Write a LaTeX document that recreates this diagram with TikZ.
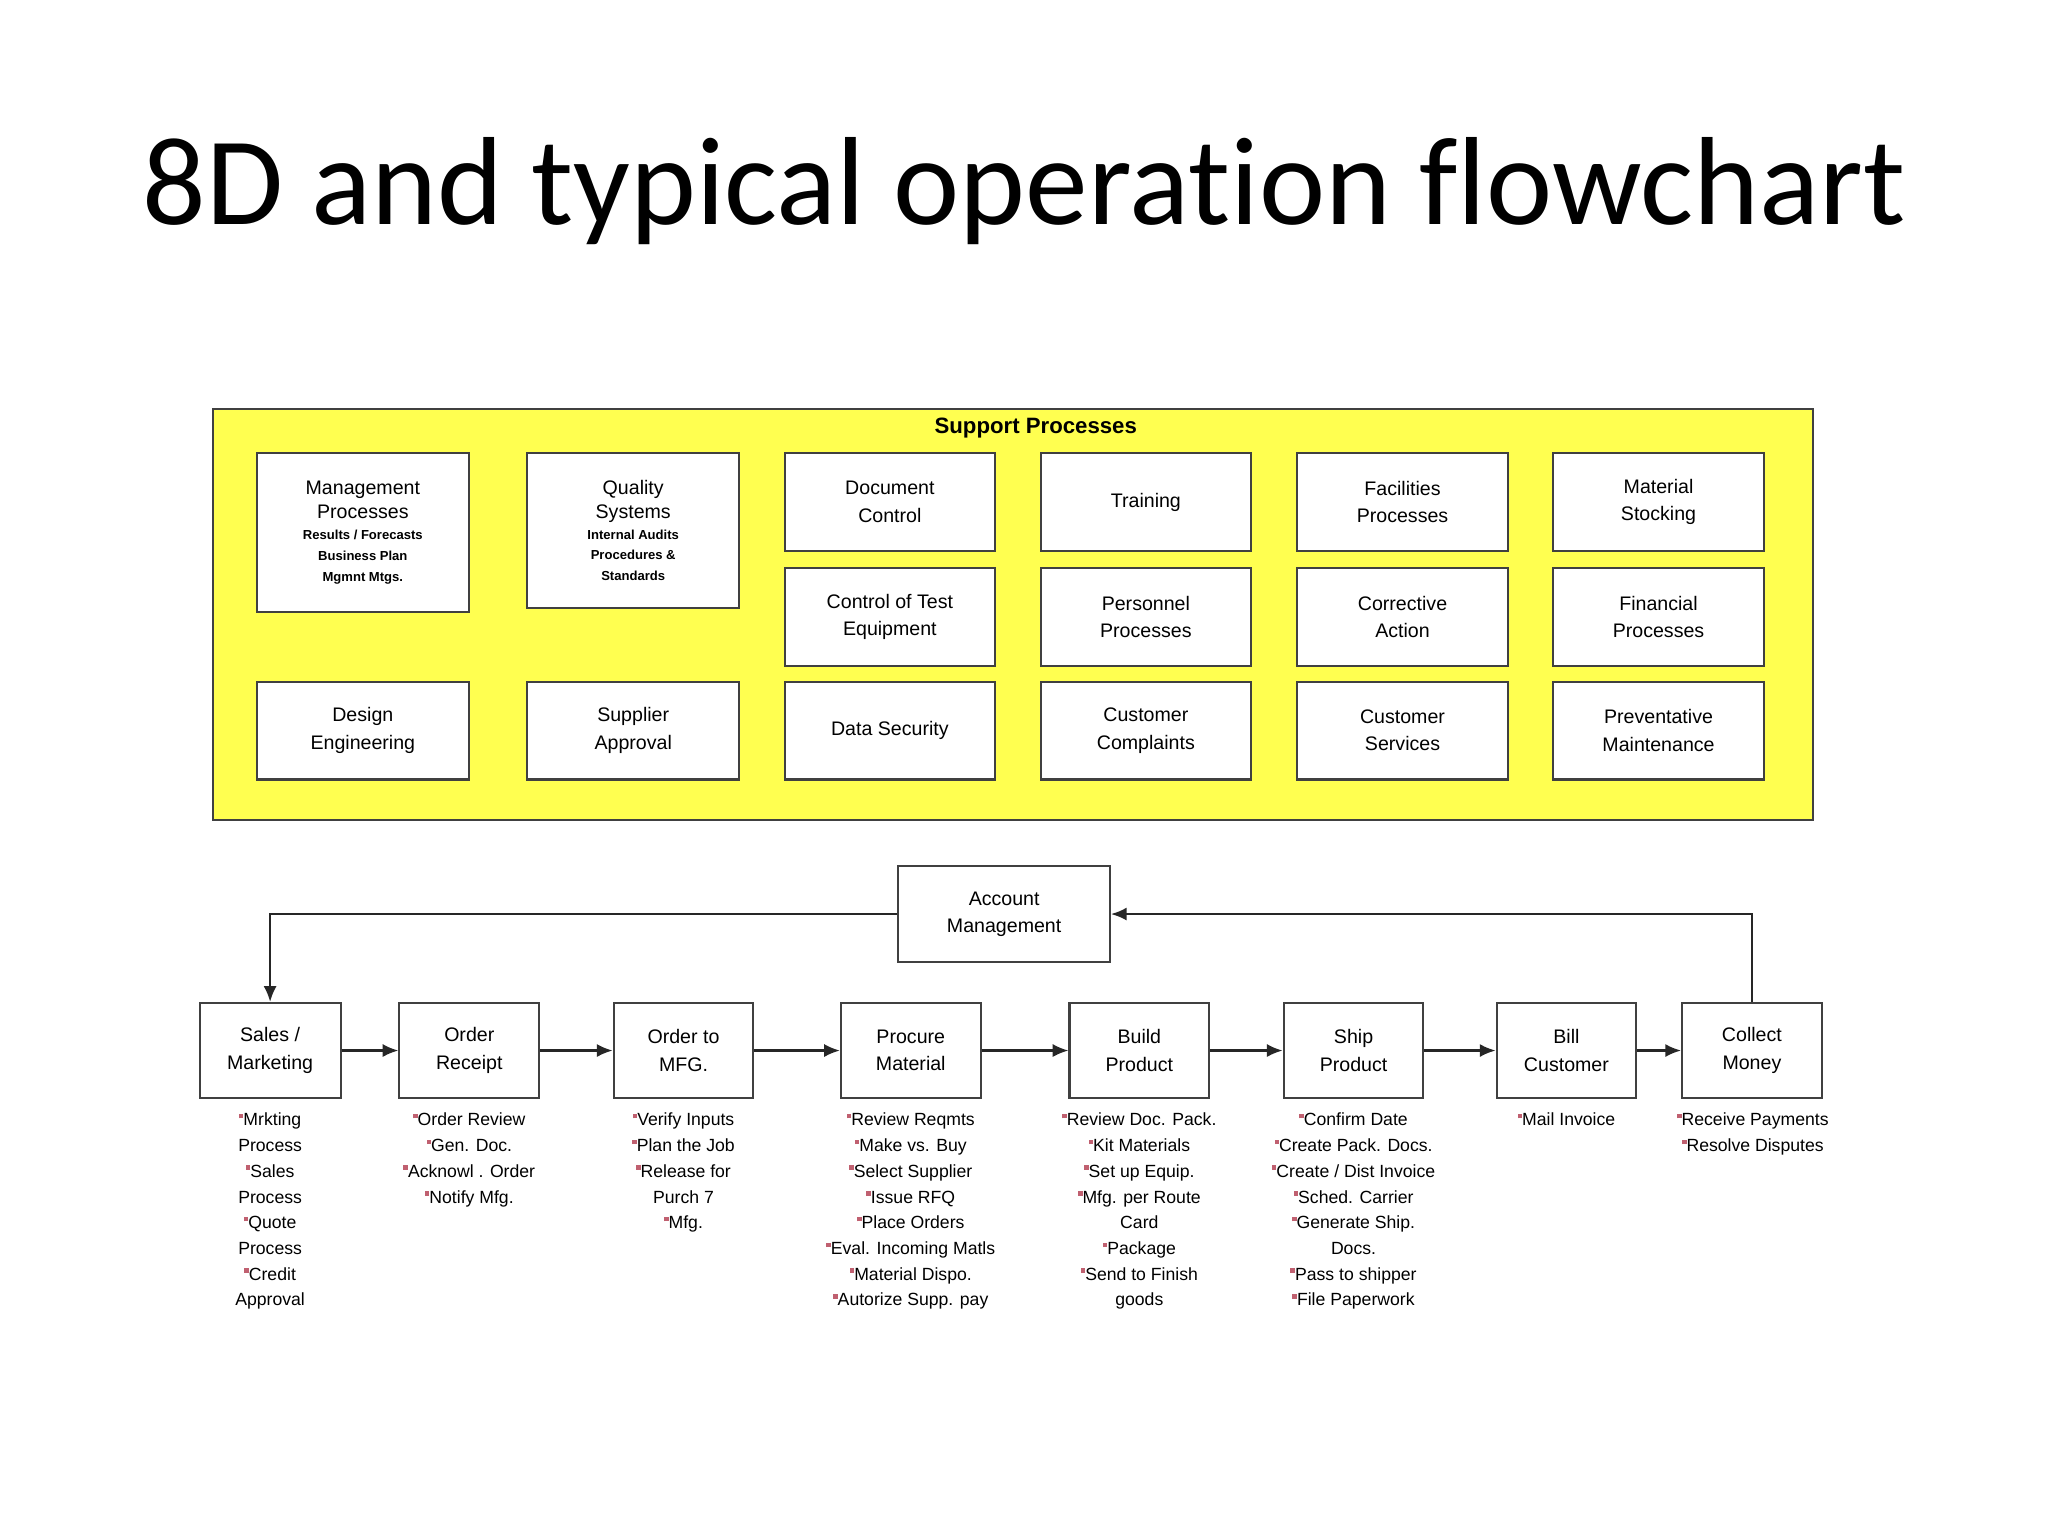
\documentclass[tikz,border=0pt]{standalone}
\usepackage{fontspec}
\setmainfont{Liberation Sans}
\newfontfamily\titlefont[Ligatures=NoCommon]{Carlito}
\usetikzlibrary{arrows.meta}
\definecolor{ylw}{HTML}{FFFF50}
\definecolor{bul}{HTML}{C06070}
\newcommand{\bu}{\raisebox{0.8ex}{\textcolor{bul}{\rule{3.5pt}{3.5pt}}}}
\begin{document}
\begin{tikzpicture}[x=1pt,y=-1pt,
  pbox/.style={draw=black!75,line width=1.6pt,fill=white,align=center,font=\fontsize{15}{21}\selectfont,inner sep=0pt,anchor=north west},
  fbox/.style={draw=black!75,line width=1.6pt,fill=white,align=center,font=\fontsize{15}{21}\selectfont,inner sep=0pt,minimum width=107pt,minimum height=73pt,anchor=north west},
  blist/.style={align=center,anchor=north,font=\fontsize{13.5}{19.7}\selectfont,inner sep=0pt},
  arr/.style={-{Latex[length=12pt,width=10pt]},line width=1.6pt,black!85}]
\useasboundingbox (0,0) rectangle (1568,1176);
\fill[white] (0,0) rectangle (1568,1176);
\node[font=\titlefont\fontsize{96}{100}\selectfont] (title) at (784,146) {8D and typical operation flowchart};
\draw[fill=ylw,line width=1.6pt,draw=black!75] (163,313) rectangle (1388,628);
\node[font=\bfseries\fontsize{17}{20}\selectfont] (sp) at (793,328) {Support Processes};
% column boxes
\node[pbox,minimum width=162pt,minimum height=122pt] (mp) at (196,346) {Management\\[-3pt]Processes\\[-5pt]{\bfseries\fontsize{10}{13}\selectfont Results / Forecasts}\\[-5pt]{\bfseries\fontsize{10}{13}\selectfont Business Plan}\\[-5pt]{\bfseries\fontsize{10}{13}\selectfont Mgmnt Mtgs.}};
\node[pbox,minimum width=162pt,minimum height=119pt] (qs) at (403,346) {Quality\\[-3pt]Systems\\[-5pt]{\bfseries\fontsize{10}{13}\selectfont Internal Audits}\\[-5pt]{\bfseries\fontsize{10}{13}\selectfont Procedures \&}\\[-5pt]{\bfseries\fontsize{10}{13}\selectfont Standards}};
\node[pbox,minimum width=162pt,minimum height=75pt] (de) at (196,521) {Design\\Engineering};
\node[pbox,minimum width=162pt,minimum height=75pt] (sa) at (403,521) {Supplier\\Approval};
\node[pbox,minimum width=161pt,minimum height=75pt] (dc) at (600,346) {Document\\Control};
\node[pbox,minimum width=161pt,minimum height=75pt] (ct) at (600,434) {Control of Test\\Equipment};
\node[pbox,minimum width=161pt,minimum height=75pt] (ds) at (600,521) {Data Security};
\node[pbox,minimum width=161pt,minimum height=75pt] (tr) at (796,346) {Training};
\node[pbox,minimum width=161pt,minimum height=75pt] (pp) at (796,434) {Personnel\\Processes};
\node[pbox,minimum width=161pt,minimum height=75pt] (cc) at (796,521) {Customer\\Complaints};
\node[pbox,minimum width=162pt,minimum height=75pt] (fp) at (992,346) {Facilities\\Processes};
\node[pbox,minimum width=162pt,minimum height=75pt] (ca) at (992,434) {Corrective\\Action};
\node[pbox,minimum width=162pt,minimum height=75pt] (cs) at (992,521) {Customer\\Services};
\node[pbox,minimum width=162pt,minimum height=75pt] (ms) at (1188,346) {Material\\Stocking};
\node[pbox,minimum width=162pt,minimum height=75pt] (fin) at (1188,434) {Financial\\Processes};
\node[pbox,minimum width=162pt,minimum height=75pt] (pm) at (1188,521) {Preventative\\Maintenance};
% account
\node[pbox,minimum width=162pt,minimum height=74pt] (am) at (687,662) {Account\\Management};
% flow
\node[fbox,minimum width=108pt] (s1) at (152,767) {Sales /\\Marketing};
\node[fbox] (s2) at (305,767) {Order\\Receipt};
\node[fbox] (s3) at (469,767) {Order to\\MFG.};
\node[fbox] (s4) at (643,767) {Procure\\Material};
\node[fbox] (s5) at (818,767) {Build\\Product};
\node[fbox] (s6) at (982,767) {Ship\\Product};
\node[fbox] (s7) at (1145,767) {Bill\\Customer};
\node[fbox] (s8) at (1287,767) {Collect\\Money};
\foreach \a/\b in {s1/s2,s2/s3,s3/s4,s4/s5,s5/s6,s6/s7,s7/s8}
  \draw[arr] (\a) -- (\b);
\draw[arr] (s8.north) |- (am.east);
\draw[arr] (am.west) -| (s1.north);
% bullet lists
\node[blist] (b1) at (s1.south |- 0,852) {\bu Mrkting\\Process\\\bu Sales\\Process\\\bu Quote\\Process\\\bu Credit\\Approval};
\node[blist] (b2) at (s2.south |- 0,852) {\bu Order Review\\\bu Gen. Doc.\\\bu Acknowl . Order\\\bu Notify Mfg.};
\node[blist] (b3) at (s3.south |- 0,852) {\bu Verify Inputs\\\bu Plan the Job\\\bu Release for\\Purch 7\\\bu Mfg.};
\node[blist] (b4) at (s4.south |- 0,852) {\bu Review Reqmts\\\bu Make vs. Buy\\\bu Select Supplier\\\bu Issue RFQ\\\bu Place Orders\\\bu Eval. Incoming Matls\\\bu Material Dispo.\\\bu Autorize Supp. pay};
\node[blist] (b5) at (s5.south |- 0,852) {\bu Review Doc. Pack.\\\bu Kit Materials\\\bu Set up Equip.\\\bu Mfg. per Route\\Card\\\bu Package\\\bu Send to Finish\\goods};
\node[blist] (b6) at (s6.south |- 0,852) {\bu Confirm Date\\\bu Create Pack. Docs.\\\bu Create / Dist Invoice\\\bu Sched. Carrier\\\bu Generate Ship.\\Docs.\\\bu Pass to shipper\\\bu File Paperwork};
\node[blist] (b7) at (s7.south |- 0,852) {\bu Mail Invoice};
\node[blist] (b8) at (1342,852) {\bu Receive Payments\\\bu Resolve Disputes};
\end{tikzpicture}
\end{document}
